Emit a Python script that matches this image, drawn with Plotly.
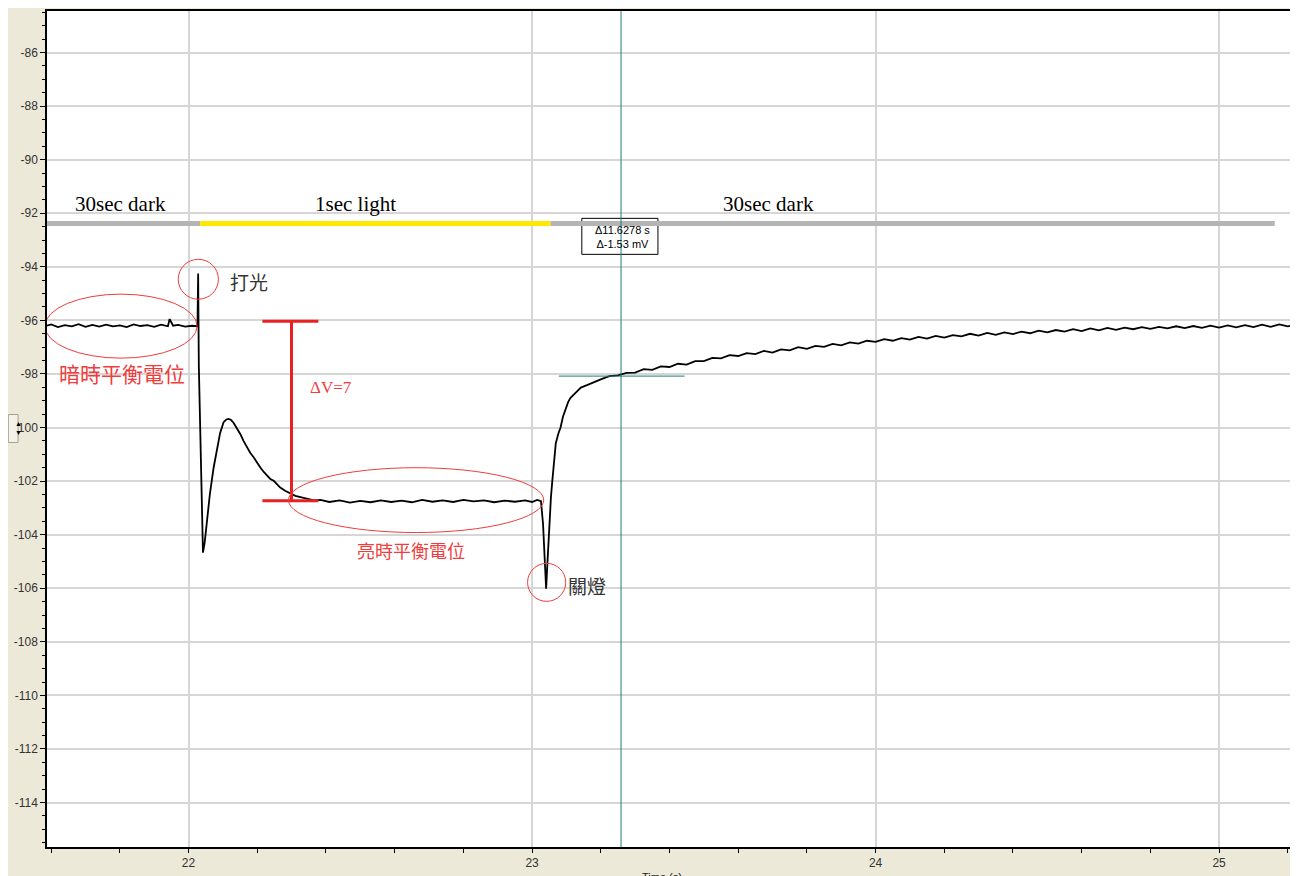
import plotly.graph_objects as go

# ---------------- data ----------------
dark_t = [21.588, 21.60, 21.62, 21.64, 21.66, 21.68, 21.70, 21.72, 21.74, 21.76, 21.78, 21.80,
          21.82, 21.84, 21.86, 21.88, 21.90, 21.92, 21.94, 21.945, 21.955, 21.97, 21.99, 22.01, 22.026]
dark_v = [-96.20, -96.15, -96.25, -96.18, -96.22, -96.14, -96.24, -96.17, -96.23, -96.16, -96.22, -96.19,
          -96.25, -96.15, -96.21, -96.18, -96.24, -96.16, -96.22, -95.95, -96.20, -96.17, -96.23, -96.20, -96.22]

light_t = [22.028, 22.030, 22.036, 22.042, 22.047, 22.052, 22.062, 22.073, 22.083, 22.092, 22.102, 22.110,
           22.117, 22.124, 22.131, 22.141, 22.151, 22.160, 22.170, 22.180, 22.190, 22.200, 22.209, 22.219,
           22.229, 22.238, 22.248, 22.257, 22.267, 22.281, 22.296, 22.311, 22.326, 22.345, 22.365, 22.384,
           22.41, 22.44, 22.47, 22.50, 22.53, 22.56, 22.59, 22.62, 22.65, 22.68, 22.71, 22.74, 22.77,
           22.80, 22.83, 22.86, 22.89, 22.92, 22.95, 22.98, 23.00, 23.015, 23.026]
light_v = [-94.25, -97.7, -101.5, -104.67, -104.3, -103.66, -102.5, -101.5, -100.8, -100.2, -99.8, -99.7,
           -99.68, -99.72, -99.82, -100.02, -100.25, -100.5, -100.75, -100.95, -101.12, -101.33, -101.49, -101.66,
           -101.8, -101.92, -101.99, -102.12, -102.24, -102.36, -102.47, -102.55, -102.6, -102.66, -102.72, -102.7,
           -102.78, -102.72, -102.8, -102.74, -102.79, -102.72, -102.78, -102.73, -102.79, -102.7, -102.77, -102.72, -102.78,
           -102.7, -102.76, -102.72, -102.79, -102.73, -102.77, -102.72, -102.78, -102.7, -102.75]

recovery_t = [23.032, 23.037, 23.041, 23.045, 23.050, 23.055, 23.059, 23.064, 23.069, 23.076, 23.083, 23.090,
              23.098, 23.105, 23.112, 23.127, 23.142, 23.16, 23.18, 23.20, 23.225, 23.25, 23.275, 23.30,
              23.325, 23.35, 23.375, 23.40, 23.425, 23.45, 23.475, 23.50, 23.525, 23.55, 23.575, 23.60,
              23.625, 23.65, 23.675, 23.70, 23.725, 23.75, 23.775, 23.80, 23.825, 23.85, 23.875, 23.90,
              23.925, 23.95, 23.975, 24.00, 24.025, 24.05, 24.075, 24.10, 24.125, 24.15, 24.175, 24.20,
              24.225, 24.25, 24.275, 24.30, 24.325, 24.35, 24.375, 24.40, 24.425, 24.45, 24.475, 24.50,
              24.525, 24.55, 24.575, 24.60, 24.625, 24.65, 24.675, 24.70, 24.725, 24.75, 24.775, 24.80,
              24.825, 24.85, 24.875, 24.90, 24.925, 24.95, 24.975, 25.00, 25.025, 25.05, 25.075, 25.10,
              25.125, 25.15, 25.175, 25.20, 25.221]
recovery_v = [-103.6, -105.2, -106.02, -105.0, -103.5, -102.6, -101.99, -101.2, -100.6, -100.25, -100.0, -99.6,
              -99.26, -99.05, -98.89, -98.68, -98.51, -98.42, -98.3, -98.2, -98.08, -98.05, -97.96, -97.95,
              -97.82, -97.85, -97.72, -97.74, -97.62, -97.65, -97.52, -97.52, -97.4, -97.42, -97.3, -97.33,
              -97.22, -97.26, -97.14, -97.2, -97.08, -97.12, -97.0, -97.06, -96.95, -96.99, -96.88, -96.93,
              -96.82, -96.87, -96.76, -96.8, -96.7, -96.76, -96.66, -96.72, -96.62, -96.68, -96.58, -96.64,
              -96.55, -96.6, -96.5, -96.57, -96.47, -96.54, -96.45, -96.51, -96.42, -96.48, -96.38, -96.45,
              -96.36, -96.42, -96.33, -96.4, -96.3, -96.37, -96.28, -96.35, -96.27, -96.33, -96.25, -96.32,
              -96.24, -96.3, -96.22, -96.29, -96.21, -96.28, -96.2, -96.27, -96.19, -96.26, -96.18, -96.25,
              -96.16, -96.24, -96.15, -96.22, -96.18]

y_tick_vals = [-114, -112, -110, -108, -106, -104, -102, -100, -98, -96, -94, -92, -90, -88, -86]
y_tick_text = ["-114", "-112", "-110", "-108", "-106", "-104", "-102", "-100", "-98", "-96",
               "-94", "-92", "-90", "-88", "-86"]
x_tick_vals = [22, 23, 24, 25]
x_tick_text = ["22", "23", "24", "25"]

# phases of the stimulus bar
phase_labels = ["30sec dark", "1sec light", "30sec dark"]
phase_start = [21.588, 22.034, 23.054]
phase_end = [22.034, 23.054, 25.162]
phase_label_x = [21.801, 22.486, 23.687]
phase_colors = ["#B4B4B4", "#FFE800", "#B4B4B4"]
bar_level = -92.38

# ------------------------------------------------------------
t_all = dark_t + light_t + recovery_t
v_all = dark_v + light_v + recovery_v

fig = go.Figure()
fig.add_trace(go.Scatter(x=t_all, y=v_all, mode="lines",
                         line=dict(color="black", width=1.8), showlegend=False, hoverinfo="skip"))

RED = "#F03C3C"
shapes = []
# cursor readout box
shapes.append(dict(type="rect", xref="x", yref="y", x0=23.1449, x1=23.3665, y0=-92.19, y1=-93.535,
                   line=dict(color="black", width=1), fillcolor="white", layer="above"))
# stimulus bars
for s, e, c in zip(phase_start, phase_end, phase_colors):
    shapes.append(dict(type="line", xref="x", yref="y", x0=s, x1=e, y0=bar_level, y1=bar_level,
                       line=dict(color=c, width=5), layer="above"))
# cursor lines
shapes.append(dict(type="line", xref="x", yref="paper", x0=23.259, x1=23.259, y0=0, y1=1,
                   line=dict(color="#217A7A", width=1)))
shapes.append(dict(type="line", xref="x", yref="y", x0=23.078, x1=23.444, y0=-98.08, y1=-98.08,
                   line=dict(color="#217A7A", width=1)))
# red I-bar (delta V)
shapes.append(dict(type="line", xref="x", yref="y", x0=22.2997, x1=22.2997, y0=-96.03, y1=-102.73,
                   line=dict(color="#E82020", width=3)))
for yy in (-96.03, -102.73):
    shapes.append(dict(type="line", xref="x", yref="y", x0=22.215, x1=22.378, y0=yy, y1=yy,
                       line=dict(color="#E82020", width=3)))
# red ellipses
for x0, x1, y0, y1 in [(21.582, 22.025, -95.02, -97.41),
                       (21.970, 22.087, -93.72, -95.21),
                       (22.291, 23.034, -101.5, -103.92),
                       (22.987, 23.098, -105.07, -106.49)]:
    shapes.append(dict(type="circle", xref="x", yref="y", x0=x0, x1=x1, y0=y0, y1=y1,
                       line=dict(color=RED, width=1)))
# spinner box on left panel
shapes.append(dict(type="rect", xref="paper", yref="paper", x0=-0.0310, x1=-0.0232, y0=0.4839, y1=0.5173,
                   line=dict(color="#A0A090", width=1), fillcolor="#F4F2E8", layer="above"))

annotations = []
for lab, lx in zip(phase_labels, phase_label_x):
    annotations.append(dict(x=lx, y=-91.67, xref="x", yref="y", text=lab, showarrow=False,
                            font=dict(family="Liberation Serif", size=21, color="black")))
annotations.append(dict(x=23.264, y=-92.87, xref="x", yref="y", text="Δ11.6278 s<br>Δ-1.53 mV",
                        showarrow=False, font=dict(family="Liberation Sans", size=11, color="black")))
annotations.append(dict(x=22.116, y=-94.54, xref="x", yref="y", text="打光", xanchor="left", showarrow=False,
                        font=dict(family="Noto Sans CJK TC", size=19, color="#333333")))
annotations.append(dict(x=23.100, y=-105.9, xref="x", yref="y", text="關燈", xanchor="left", showarrow=False,
                        font=dict(family="Noto Sans CJK TC", size=19, color="#333333")))
annotations.append(dict(x=21.806, y=-97.97, xref="x", yref="y", text="暗時平衡電位", showarrow=False,
                        font=dict(family="Noto Sans CJK TC", size=21, color=RED)))
annotations.append(dict(x=22.649, y=-104.56, xref="x", yref="y", text="亮時平衡電位", showarrow=False,
                        font=dict(family="Noto Sans CJK TC", size=18, color=RED)))
annotations.append(dict(x=22.348, y=-98.52, xref="x", yref="y", text="ΔV=7", xanchor="left", showarrow=False,
                        font=dict(family="Liberation Serif", size=17, color=RED)))
annotations.append(dict(x=0.4928, y=-0.0262, xref="paper", yref="paper", text="Time (s)", yanchor="top",
                        showarrow=False, font=dict(family="Liberation Sans", size=11, color="#222222")))
annotations.append(dict(x=-0.0271, y=0.5006, xref="paper", yref="paper", text="▲<br>▼", showarrow=False,
                        font=dict(size=7, color="black")))

fig.update_layout(
    width=1290, height=868,
    margin=dict(l=39, r=3, t=1, b=29, pad=0),
    paper_bgcolor="#ECE9D8", plot_bgcolor="white",
    shapes=shapes, annotations=annotations, showlegend=False,
    font=dict(family="Liberation Sans", size=12, color="#333333"),
)
fig.update_xaxes(range=[21.588, 25.221], tickmode="array", tickvals=x_tick_vals, ticktext=x_tick_text,
                 showgrid=True, gridcolor="#D6D6D6", gridwidth=1.5, zeroline=False,
                 showline=True, linecolor="black", linewidth=1.5, mirror=True,
                 ticks="outside", ticklen=4, tickcolor="black",
                 minor=dict(tickmode="linear", tick0=22, dtick=0.2, ticks="outside", ticklen=4,
                            tickcolor="black", showgrid=False),
                 tickfont=dict(family="Liberation Sans", size=12, color="#333333"))
fig.update_yaxes(range=[-115.66, -84.45], tickmode="array", tickvals=y_tick_vals, ticktext=y_tick_text,
                 showgrid=True, gridcolor="#D6D6D6", gridwidth=1.5, zeroline=False,
                 showline=True, linecolor="black", linewidth=1.5,
                 ticks="outside", ticklen=5, tickcolor="black",
                 minor=dict(tickmode="linear", tick0=-86, dtick=0.5, ticks="outside", ticklen=3,
                            tickcolor="black", showgrid=False),
                 tickfont=dict(family="Liberation Sans", size=12, color="#333333"))

fig.write_html("out.html")
